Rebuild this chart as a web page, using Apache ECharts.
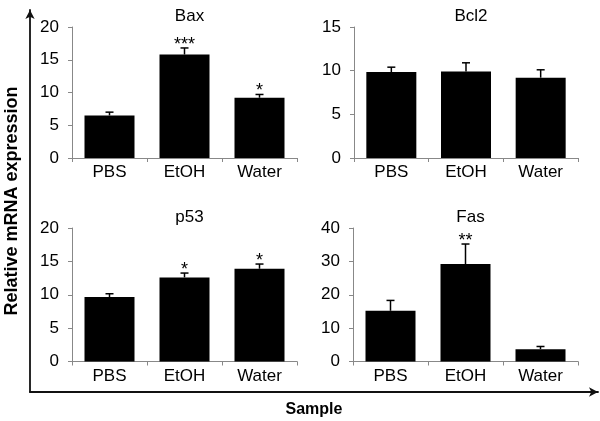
<!DOCTYPE html>
<html>
<head>
<meta charset="utf-8">
<script src="https://cdn.jsdelivr.net/npm/echarts@6/dist/echarts.min.js"></script>
<style>
  html, body { margin: 0; padding: 0; background: #fff; }
  #chart { width: 600px; height: 421px; }
</style>
</head>
<body>
<div id="chart"></div>
<script>
//--------------------- Data ---------------------------//
const samples = ['PBS', 'EtOH', 'Water'];

const baxMean = [6.5, 15.8, 9.2];
const baxErr = [0.5, 1.0, 0.5];
const baxStars = ['', '***', '*'];

const bcl2Mean = [9.85, 9.9, 9.2];
const bcl2Err = [0.55, 1.0, 0.9];
const bcl2Stars = ['', '', ''];

const p53Mean = [9.65, 12.6, 13.9];
const p53Err = [0.5, 0.65, 0.7];
const p53Stars = ['', '*', '*'];

const fasMean = [15.2, 29.2, 3.7];
const fasErr = [3.1, 6.0, 0.8];
const fasStars = ['', '**', ''];

//--------------------- Layout ---------------------------//
const font = 'Liberation Sans, Arial, sans-serif';
const panels = [
  { title: 'Bax', mean: baxMean, err: baxErr, stars: baxStars, max: 20, step: 5,
    grid: { left: 72, top: 27, width: 225, height: 131 } },
  { title: 'Bcl2', mean: bcl2Mean, err: bcl2Err, stars: bcl2Stars, max: 15, step: 5,
    grid: { left: 354, top: 27, width: 224, height: 131 } },
  { title: 'p53', mean: p53Mean, err: p53Err, stars: p53Stars, max: 20, step: 5,
    grid: { left: 72, top: 228, width: 225, height: 133.5 } },
  { title: 'Fas', mean: fasMean, err: fasErr, stars: fasStars, max: 40, step: 10,
    grid: { left: 353, top: 228, width: 225, height: 133.5 } },
];

const grids = [], xAxes = [], yAxes = [], titles = [], series = [];

panels.forEach((p, i) => {
  grids.push(Object.assign({ outerBoundsMode: 'none', containLabel: false }, p.grid));
  titles.push({
    text: p.title,
    left: p.grid.left + p.grid.width / 2,
    top: p.grid.top - 24,
    textAlign: 'center',
    textStyle: { fontFamily: font, fontSize: 17, fontWeight: 'normal', color: '#000' }
  });
  xAxes.push({
    type: 'category', gridIndex: i, data: samples,
    axisLine: { lineStyle: { color: '#888', width: 1 } },
    axisTick: { show: true, length: 4, lineStyle: { color: '#888' } },
    axisLabel: { color: '#000', fontFamily: font, fontSize: 17, margin: 6 }
  });
  yAxes.push({
    type: 'value', gridIndex: i, min: 0, max: p.max, interval: p.step,
    splitLine: { show: false },
    axisLine: { show: true, lineStyle: { color: '#888', width: 1 } },
    axisTick: { show: true, length: 4, lineStyle: { color: '#888' } },
    axisLabel: { color: '#000', fontFamily: font, fontSize: 17, margin: 13 }
  });
  series.push({
    type: 'bar', xAxisIndex: i, yAxisIndex: i,
    data: p.mean, barWidth: 50,
    itemStyle: { color: '#000' }
  });
  // error bars + significance stars
  series.push({
    type: 'custom', xAxisIndex: i, yAxisIndex: i,
    data: p.mean.map((m, k) => [k, m, m + p.err[k]]),
    z: 5,
    renderItem: (params, api) => {
      const k = api.value(0);
      const p0 = api.coord([k, api.value(1)]);
      const p1 = api.coord([k, api.value(2)]);
      return {
        type: 'group',
        children: [
          { type: 'line', shape: { x1: p0[0], y1: p0[1], x2: p1[0], y2: p1[1] },
            style: { stroke: '#000', lineWidth: 1.5 } },
          { type: 'line', shape: { x1: p1[0] - 4, y1: p1[1], x2: p1[0] + 4, y2: p1[1] },
            style: { stroke: '#000', lineWidth: 1.5 } },
          { type: 'text', x: p1[0], y: p1[1] + 6,
            style: { text: p.stars[k], fill: '#000', font: '18px ' + font,
                     align: 'center', verticalAlign: 'bottom' } }
        ]
      };
    }
  });
});

// outer frame with arrows ("Sample" / "Relative mRNA expression")
grids.push({ left: 30, top: 10, width: 568, height: 382, outerBoundsMode: 'none', containLabel: false });
xAxes.push({
  type: 'value', gridIndex: 4, min: 0, max: 1,
  name: 'Sample', nameLocation: 'middle', nameGap: 10,
  nameTextStyle: { fontFamily: font, fontSize: 16, fontWeight: 'bold', color: '#000' },
  axisLine: { show: true, symbol: ['none', 'arrow'], symbolSize: [7, 9], lineStyle: { color: '#111', width: 1.8 } },
  axisTick: { show: false }, axisLabel: { show: false }, splitLine: { show: false }
});
yAxes.push({
  type: 'value', gridIndex: 4, min: 0, max: 1,
  name: 'Relative mRNA expression', nameLocation: 'middle', nameGap: 9, nameRotate: 90,
  nameTextStyle: { fontFamily: font, fontSize: 18, fontWeight: 'bold', color: '#000' },
  axisLine: { show: true, symbol: ['none', 'arrow'], symbolSize: [7, 9], lineStyle: { color: '#111', width: 1.8 } },
  axisTick: { show: false }, axisLabel: { show: false }, splitLine: { show: false }
});

//--------------------- Main ---------------------------//
const myChart = echarts.init(document.getElementById('chart'));
myChart.setOption({
  animation: false,
  backgroundColor: '#fff',
  title: titles,
  grid: grids,
  xAxis: xAxes,
  yAxis: yAxes,
  series: series
});
</script>
</body>
</html>
